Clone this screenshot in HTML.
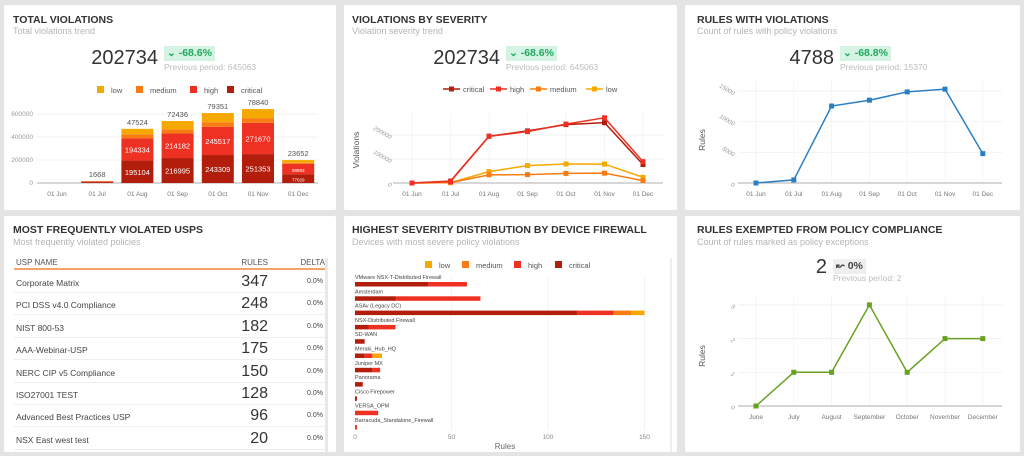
<!DOCTYPE html>
<html><head><meta charset="utf-8"><style>
*{box-sizing:border-box;margin:0;padding:0}
body{width:1024px;height:456px;background:#e4e4e4;font-family:"Liberation Sans",sans-serif;position:relative;overflow:hidden;color:#333}
.card{position:absolute;background:#fff;border-radius:2px}
.t{position:absolute;font-size:10.5px;font-weight:bold;color:#333;white-space:nowrap}
.s{position:absolute;font-size:9px;color:#b5b5b5;white-space:nowrap}
.big{position:absolute;font-size:20px;color:#333;text-align:right;width:100px}
.badge{position:absolute;background:#d5f3e2;color:#1eaa5e;font-size:10.5px;font-weight:bold;padding:1px 3px;height:15px;white-space:nowrap}
.prev{position:absolute;font-size:8.5px;color:#bdbdbd;white-space:nowrap}
svg{position:absolute;left:0;top:0}
.row{position:absolute;left:14px;width:314px;height:22px;border-bottom:1px solid #eee;font-size:8.5px;color:#444}
</style></head><body>
<div class="card" style="left:4px;top:5px;width:332px;height:205px"></div>
<div class="card" style="left:344px;top:5px;width:333px;height:205px"></div>
<div class="card" style="left:685px;top:5px;width:335px;height:205px"></div>
<div class="card" style="left:4px;top:216px;width:332px;height:236px"></div>
<div class="card" style="left:344px;top:216px;width:333px;height:236px"></div>
<div class="card" style="left:685px;top:216px;width:335px;height:236px"></div>

<div class="t" style="left:13px;top:14px">TOTAL VIOLATIONS</div>
<div class="s" style="left:13px;top:26px">Total violations trend</div>
<div class="big" style="left:58px;top:47px">202734</div>
<div class="badge" style="left:164px;top:46px">⌄ -68.6%</div>
<div class="prev" style="left:164px;top:62px">Previous period: 645063</div>

<div class="t" style="left:352px;top:14px">VIOLATIONS BY SEVERITY</div>
<div class="s" style="left:352px;top:26px">Violation severity trend</div>
<div class="big" style="left:400px;top:47px">202734</div>
<div class="badge" style="left:506px;top:46px">⌄ -68.6%</div>
<div class="prev" style="left:506px;top:62px">Previous period: 645063</div>

<div class="t" style="left:697px;top:14px">RULES WITH VIOLATIONS</div>
<div class="s" style="left:697px;top:26px">Count of rules with policy violations</div>
<div class="big" style="left:734px;top:47px">4788</div>
<div class="badge" style="left:840px;top:46px">⌄ -68.8%</div>
<div class="prev" style="left:840px;top:62px">Previous period: 15370</div>

<div class="t" style="left:13px;top:224px">MOST FREQUENTLY VIOLATED USPS</div>
<div class="s" style="left:13px;top:237px">Most frequently violated policies</div>
<div style="position:absolute;left:14px;top:258px;width:314px;height:12px;border-bottom:2px solid #f5a36a;font-size:8px;color:#555">
<span style="position:absolute;left:2px;top:0">USP NAME</span><span style="position:absolute;right:60px;top:0">RULES</span><span style="position:absolute;right:3px;top:0">DELTA</span></div>
<div id="rows"></div>
<div style="position:absolute;left:325px;top:258px;width:3px;height:194px;background:#e8e8e8"></div>

<div class="t" style="left:352px;top:224px">HIGHEST SEVERITY DISTRIBUTION BY DEVICE FIREWALL</div>
<div class="s" style="left:352px;top:237px">Devices with most severe policy violations</div>

<div class="t" style="left:697px;top:224px">RULES EXEMPTED FROM POLICY COMPLIANCE</div>
<div class="s" style="left:697px;top:237px">Count of rules marked as policy exceptions</div>
<div class="big" style="left:727px;top:256px">2</div>
<div class="badge" style="left:833px;top:259px;background:#eee;color:#444">↜ 0%</div>
<div class="prev" style="left:833px;top:273px">Previous period: 2</div>

<svg id="sv" width="1024" height="456"></svg>
<script>
const months=["01 Jun","01 Jul","01 Aug","01 Sep","01 Oct","01 Nov","01 Dec"];
const critical=[0,8000,195104,216995,243309,251353,77029];
const high=[0,6000,194334,214182,245517,271670,88893];
const medium=[0,1500,34000,35000,40000,41000,10000];
const low=[0,1668,47524,72436,79351,78840,23652];
const barTicks=[0,200000,400000,600000];
const lineTicks=[0,100000,200000];
const rulesVals=[0,500,12550,13500,14850,15300,4788];
const rulesTicks=[0,5000,10000,15000];
const exMonths=["June","July","August","September","October","November","December"];
const exVals=[0,1,1,3,1,2,2];
const exTicks=[0,1,2,3];
const devices=["VMware NSX-T-Distributed Firewall","Amsterdam","ASAv (Legacy DC)","NSX-Distributed Firewall","SD-WAN","Meraki_Hub_HQ","Juniper MX","Panorama","Cisco Firepower","VERSA_OPM","Barracuda_Standalone_Firewall"];
const devCritical=[38,21,115,7,5,5,9,4,1,0,0];
const devHigh=[20,44,19,14,0,4,4,0,0,12,1];
const devMedium=[0,0,9,0,0,0,0,0,0,0,0];
const devLow=[0,0,7,0,0,5,0,0,0,0,0];
const devTicks=[0,50,100,150];
const uspNames=["Corporate Matrix","PCI DSS v4.0 Compliance","NIST 800-53","AAA-Webinar-USP","NERC CIP v5 Compliance","ISO27001 TEST","Advanced Best Practices USP","NSX East west test"];
const uspRules=[347,248,182,175,150,128,96,20];
const uspDelta=["0.0%","0.0%","0.0%","0.0%","0.0%","0.0%","0.0%","0.0%"];
const C={critical:"#b31d0c",high:"#ef3124",medium:"#f97c12",low:"#f5a800"};

const sv=document.getElementById('sv');const NS="http://www.w3.org/2000/svg";
function el(t,a,p){const e=document.createElementNS(NS,t);for(const k in a)e.setAttribute(k,a[k]);(p||sv).appendChild(e);return e;}
function tx(x,y,s,a){const e=el('text',Object.assign({x:x,y:y,'font-size':7,fill:'#777','font-family':'Liberation Sans, sans-serif'},a||{}));e.textContent=s;return e;}
function sq(x,y,c){return el('rect',{x:x,y:y,width:7,height:7,fill:c});}

(function(){
 const x0=57,dx=40.2,bw=32,base=183,k=23/200000;
 const y=v=>base-v*k;
 barTicks.forEach(t=>{el('line',{x1:37,x2:318,y1:y(t),y2:y(t),stroke:'#eee','stroke-width':0.7});const l=tx(33,y(t)+2,String(t),{'text-anchor':'end','font-size':6.5,fill:'#999'});});
 el('line',{x1:37,x2:318,y1:base,y2:base,stroke:'#999','stroke-width':0.8});
 months.forEach((m,i)=>{const cx=x0+i*dx;let acc=0;
  [["critical",critical],["high",high],["medium",medium],["low",low]].forEach(([n,arr])=>{const v=arr[i];if(!v)return;const r=el('rect',{x:cx-bw/2,y:y(acc+v),width:bw,height:v*k,fill:C[n]});acc+=v;});
  const tl=tx(cx,196,m,{'text-anchor':'middle','font-size':6.5});
  if(low[i]){tx(cx,y(acc)-4,String(low[i]),{'text-anchor':'middle','font-size':7.5,fill:'#555'});}
  if(critical[i]>50000){const big=critical[i]>150000;tx(cx,y(critical[i]/2)+3,String(critical[i]),{'text-anchor':'middle','font-size':big?7.5:4.5,fill:'#fff'});tx(cx,y(critical[i]+high[i]/2)+3,String(high[i]),{'text-anchor':'middle','font-size':big?7.5:4.5,fill:'#fff'});}
 });
 [["low",97],["medium",136],["high",190],["critical",227]].forEach(([n,x])=>{const r=sq(x,86,C[n]);tx(x+14,93,n,{'font-size':7.5,fill:'#555'});});
})();

function lineChart(o){
 const y=v=>o.base-v*o.k;
 o.ticks.forEach(t=>{el('line',{x1:o.x1,x2:o.x2,y1:y(t),y2:y(t),stroke:'#eee','stroke-width':0.7});const l=tx(o.tx,y(t)+2,String(t),{'text-anchor':'end','font-size':6,fill:'#999',transform:'rotate(30 '+(o.tx-5)+' '+y(t)+')','font-style':'italic'});});
 o.cats.forEach((m,i)=>{const cx=o.x0+i*o.dx;el('line',{x1:cx,x2:cx,y1:o.top,y2:o.base,stroke:'#f2f2f2','stroke-width':0.7});const l=tx(cx,o.base+13,m,{'text-anchor':'middle','font-size':6.5});});
 el('line',{x1:o.x1,x2:o.x2,y1:o.base,y2:o.base,stroke:'#999','stroke-width':0.8});
 o.series.forEach(([n,arr,c])=>{const pts=arr.map((v,i)=>(o.x0+i*o.dx)+','+y(v)).join(' ');const p=el('polyline',{points:pts,fill:'none',stroke:c,'stroke-width':1.5});
  arr.forEach((v,i)=>{const r=el('rect',{x:o.x0+i*o.dx-2.5,y:y(v)-2.5,width:5,height:5,fill:c});});});
 const t=tx(o.ytx,o.yty,o.ytitle,{'text-anchor':'middle','font-size':8.5,fill:'#555',transform:'rotate(-90 '+o.ytx+' '+o.yty+')'});
}
lineChart({cats:months,x0:412,dx:38.5,base:183,top:113,k:24/100000,x1:393,x2:663,tx:392,ticks:lineTicks,ytitle:'Violations',ytx:359,yty:150,
 series:[["low",low,C.low],["medium",medium,C.medium],["critical",critical,C.critical],["high",high,C.high]]});
[["critical",443,C.critical],["high",490,C.high],["medium",530,C.medium],["low",586,C.low]].forEach(([n,x,c])=>{el('line',{x1:x,x2:x+17,y1:89,y2:89,stroke:c,'stroke-width':1.5});const r=el('rect',{x:x+6,y:86.5,width:5,height:5,fill:c});tx(x+20,92,n,{'font-size':7.5,fill:'#555'});});

lineChart({cats:months,x0:756,dx:37.8,base:183,top:80,k:92/15000,x1:738,x2:1002,tx:735,ticks:rulesTicks,ytitle:'Rules',ytx:705,yty:140,series:[["rules",rulesVals,"#2a7fc4"]]});
lineChart({cats:exMonths,x0:756,dx:37.8,base:406,top:295,k:33.7,x1:738,x2:1002,tx:735,ticks:exTicks,ytitle:'Rules',ytx:705,yty:356,series:[["exempt",exVals,"#68a120"]]});

(function(){
 const x0=355,k=1.93,top=279,dy=14.3;
 devTicks.forEach(t=>{const x=x0+t*k;el('line',{x1:x,x2:x,y1:275,y2:430,stroke:'#eee','stroke-width':0.7});const l=tx(x,439,String(t),{'text-anchor':'middle','font-size':6.5,fill:'#888'});});
 tx(505,449,'Rules',{'text-anchor':'middle','font-size':8,fill:'#666'});
 devices.forEach((d,i)=>{const yy=top+i*dy;const l=tx(355,yy,d,{'font-size':5.5,fill:'#444'});
  let acc=0;[["critical",devCritical],["high",devHigh],["medium",devMedium],["low",devLow]].forEach(([n,arr])=>{const v=arr[i];if(!v)return;const r=el('rect',{x:x0+acc*k,y:yy+3,width:v*k,height:4.5,fill:C[n]});acc+=v;});});
 [["low",425],["medium",462],["high",514],["critical",555]].forEach(([n,x])=>{const r=sq(x,261,C[n]);tx(x+14,268,n,{'font-size':7.5,fill:'#555'});});
 el('rect',{x:670,y:258,width:2,height:194,fill:'#eee'});
})();

const rows=document.getElementById('rows');
uspNames.forEach((n,i)=>{const r=document.createElement('div');r.className='row';r.style.top=(271+i*22.4)+'px';
 
 
 r.innerHTML='<span style="position:absolute;left:2px;top:7px">'+n+'</span><span style="position:absolute;right:60px;top:2px;font-size:16px;color:#333">'+uspRules[i]+'</span><span style="position:absolute;right:5px;top:7px;font-size:7px">'+uspDelta[i]+'</span>';
 rows.appendChild(r);});
</script>
</body></html>
